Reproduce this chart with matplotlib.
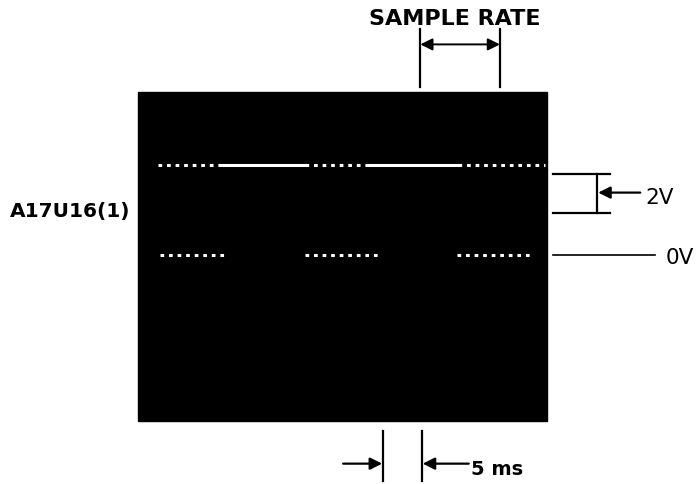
import numpy as np
import matplotlib
matplotlib.use("Agg")
import matplotlib.pyplot as plt
from matplotlib.patches import Rectangle

# scope screen extent (ms, V)
screen_t = [0.0, 52.4]
screen_v = [-8.5, 8.35]

# traces: levels (V) and time segments (ms)
high_level = 4.6
low_level = 0.0
high_dotted = [(2.6, 10.5), (21.4, 29.7), (41.0, 52.2)]
high_solid = [(10.5, 21.4), (29.7, 41.0)]
low_dotted = [(2.8, 11.5), (21.4, 31.0), (40.9, 50.6)]

# scale markers
sample_rate_ms = [36.2, 46.4]
time_div_ms = [31.4, 36.4]
volt_div = [2.15, 4.15]

trace_label = "A17U16(1)"

fig = plt.figure(figsize=(6.96, 4.85), dpi=100)
ax = fig.add_axes([0, 0, 1, 1])
ax.set_xlim(-138 / 7.8, (696 - 138) / 7.8)
ax.set_ylim((256 - 485) / 19.5, 256 / 19.5)
ax.axis("off")

# black screen
ax.add_patch(Rectangle((screen_t[0], screen_v[0]), screen_t[1] - screen_t[0],
                       screen_v[1] - screen_v[0], color="black", zorder=1))

# traces
for t0, t1 in high_dotted:
    ax.plot([t0, t1], [high_level, high_level], color="white", lw=2.2,
            linestyle=(0, (1.2, 1.6)), solid_capstyle="butt", zorder=2)
for t0, t1 in high_solid:
    ax.plot([t0, t1], [high_level, high_level], color="white", lw=2.2, zorder=2)
for t0, t1 in low_dotted:
    ax.plot([t0, t1], [low_level, low_level], color="white", lw=2.2,
            linestyle=(0, (1.2, 1.6)), zorder=2)

ax.text(-1.0, 2.0, trace_label, ha="right", va="baseline", fontsize=14.5,
        fontweight="bold", family="DejaVu Sans")

# sample rate marker
for t in sample_rate_ms:
    ax.plot([t, t], [8.6, 11.6], color="black", lw=1.6)
ax.annotate("", xy=(sample_rate_ms[0], 10.8), xytext=(sample_rate_ms[1], 10.8),
            arrowprops=dict(arrowstyle="<|-|>", color="black", lw=1.4,
                            mutation_scale=18, shrinkA=0, shrinkB=0))
ax.text(np.mean(sample_rate_ms) - 0.7, 11.85, "SAMPLE RATE", ha="center", va="baseline",
        fontsize=16, fontweight="bold", family="DejaVu Sans")

# volts/div bracket
for v in volt_div:
    ax.plot([53.2, 60.5], [v, v], color="black", lw=1.6)
ax.plot([58.9, 58.9], volt_div, color="black", lw=1.6)
ax.annotate("", xy=(59.0, 3.2), xytext=(64.4, 3.2),
            arrowprops=dict(arrowstyle="-|>", color="black", lw=1.6,
                            mutation_scale=18, shrinkA=0, shrinkB=0))
ax.text(65.0, 2.67, "2V", ha="left", va="baseline", fontsize=15.5,
        family="DejaVu Sans")

# zero volt reference
ax.plot([53.2, 66.3], [low_level, low_level], color="black", lw=1.2)
ax.text(67.6, -0.41, "0V", ha="left", va="baseline", fontsize=15.5,
        family="DejaVu Sans")

# time/div marker
for t in time_div_ms:
    ax.plot([t, t], [-9.0, -11.6], color="black", lw=1.6)
ax.annotate("", xy=(time_div_ms[0] - 0.1, -10.7), xytext=(26.3, -10.7),
            arrowprops=dict(arrowstyle="-|>", color="black", lw=1.6,
                            mutation_scale=18, shrinkA=0, shrinkB=0))
ax.annotate("", xy=(time_div_ms[1] + 0.1, -10.7), xytext=(42.4, -10.7),
            arrowprops=dict(arrowstyle="-|>", color="black", lw=1.6,
                            mutation_scale=18, shrinkA=0, shrinkB=0))
ax.text(42.7, -11.23, "5 ms", ha="left", va="baseline", fontsize=14,
        fontweight="bold", family="DejaVu Sans")

fig.savefig("out.png", dpi=100, facecolor="white")
